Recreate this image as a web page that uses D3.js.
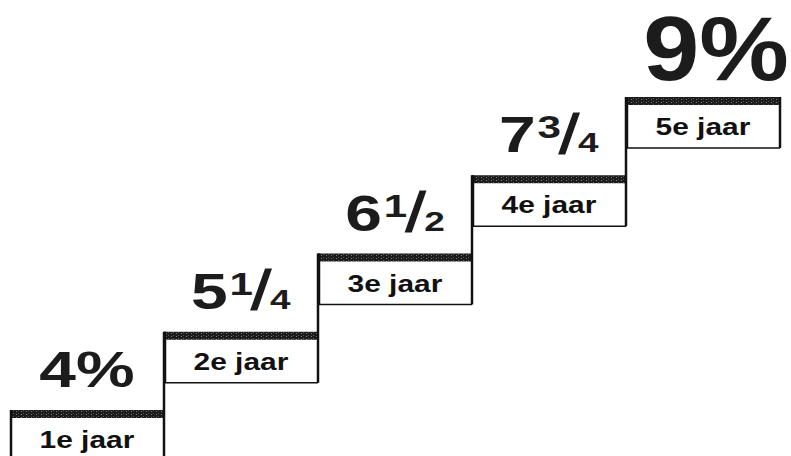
<!DOCTYPE html>
<html>
<head>
<meta charset="utf-8">
<script src="https://cdn.jsdelivr.net/npm/d3@7"></script>
<style>
  body { margin: 0; background: #fff; }
  svg { display: block; }
  text { font-family: "Liberation Sans", Arial, Helvetica, sans-serif; font-weight: bold; }
</style>
</head>
<body>
<svg id="chart" width="791" height="456"></svg>
<script>
// rente per jaar
const years = ["1e jaar", "2e jaar", "3e jaar", "4e jaar", "5e jaar"];
const rates = [4, 5.25, 6.5, 7.75, 9];
const fractions = {0.25: ["1", "4"], 0.5: ["1", "2"], 0.75: ["3", "4"]};

let barH = 8, boxH = 51;

let svg = d3.select("#chart");

let x = d3.scaleBand().domain(years).range([10, 780]);
let y = d3.scaleLinear().domain([4, 9]).range([410, 97]);
let bw = x.bandwidth();

let steps = years.map((year, i) => ({year: year, rate: rates[i], next: rates[i + 1], last: i === years.length - 1}));

// raster for the dark top bars
let pat = svg.append("defs").append("pattern")
    .attr("id", "raster")
    .attr("width", 5)
    .attr("height", 3)
    .attr("patternUnits", "userSpaceOnUse");
pat.append("rect").attr("width", 5).attr("height", 3).attr("fill", "#1c1c1c");
pat.append("rect").attr("x", 1).attr("y", 0).attr("width", 1).attr("height", 1).attr("fill", "#7a7a7a");
pat.append("rect").attr("x", 3).attr("y", 2).attr("width", 1).attr("height", 1).attr("fill", "#555");

// boxes
svg.selectAll(".box")
    .data(steps)
  .enter().append("rect")
    .attr("class", "box")
    .attr("x", d => x(d.year))
    .attr("y", d => y(d.rate))
    .attr("width", bw)
    .attr("height", boxH)
    .attr("fill", "#fff");

svg.selectAll(".bar")
    .data(steps)
  .enter().append("rect")
    .attr("class", "bar")
    .attr("x", d => x(d.year))
    .attr("y", d => y(d.rate))
    .attr("width", bw)
    .attr("height", barH)
    .attr("fill", "url(#raster)");

// left side of each box
svg.selectAll(".left")
    .data(steps)
  .enter().append("line")
    .attr("x1", d => x(d.year) + 1)
    .attr("x2", d => x(d.year) + 1)
    .attr("y1", d => y(d.rate))
    .attr("y2", d => y(d.rate) + boxH)
    .attr("stroke", "#111")
    .attr("stroke-width", 2.5);

// riser: from next step down to the bottom of this box
svg.selectAll(".riser")
    .data(steps)
  .enter().append("line")
    .attr("x1", d => x(d.year) + bw)
    .attr("x2", d => x(d.year) + bw)
    .attr("y1", d => d.last ? y(d.rate) : y(d.next))
    .attr("y2", d => y(d.rate) + boxH)
    .attr("stroke", "#111")
    .attr("stroke-width", 2.5);

svg.selectAll(".bottom")
    .data(steps)
  .enter().append("line")
    .attr("x1", d => x(d.year))
    .attr("x2", d => x(d.year) + bw)
    .attr("y1", d => y(d.rate) + boxH)
    .attr("y2", d => y(d.rate) + boxH)
    .attr("stroke", "#111")
    .attr("stroke-width", 1.5);

// place a text stretched horizontally, centred on cx
function stretch(g, cx, base, sx) {
    let b = g.select("text").node().getBBox();
    g.attr("transform", `translate(${cx - (b.x + b.width / 2) * sx},${base}) scale(${sx},1)`);
}

function rateText(t, r, big) {
    let whole = Math.floor(r), frac = r - whole;
    if (frac === 0) {
        t.append("tspan").text(whole + "%");
        return;
    }
    let [num, den] = fractions[frac];
    t.append("tspan").text(whole);
    t.append("tspan").attr("font-size", big * 0.64).attr("dy", -big * 0.28).attr("dx", big * 0.03).text(num);
    t.append("tspan").attr("font-size", big * 1.1).attr("font-weight", "normal")
        .attr("stroke", "#1c1c1c").attr("stroke-width", 1)
        .attr("dy", big * 0.29).attr("dx", -big * 0.03).text("/");
    t.append("tspan").attr("font-size", big * 0.56).attr("dy", -big * 0.01).attr("dx", -big * 0.02).text(den);
}

// year labels
svg.selectAll(".jaar")
    .data(steps)
  .enter().append("g")
    .attr("class", "jaar")
    .each(function (d) {
        let g = d3.select(this);
        g.append("text")
            .attr("font-size", 23)
            .attr("fill", "#111")
            .text(d.year);
        stretch(g, x(d.year) + bw / 2, y(d.rate) + 38, 1.3);
    });

// rates above the steps
svg.selectAll(".rente")
    .data(steps)
  .enter().append("g")
    .attr("class", "rente")
    .each(function (d) {
        let g = d3.select(this);
        let big = d.last ? 90 : 50;
        let t = g.append("text")
            .attr("font-size", big)
            .attr("fill", "#1c1c1c");
        rateText(t, d.rate, big);
        stretch(g, x(d.year) + bw / 2 + (d.last ? 13 : 0), y(d.rate) - (d.last ? 17 : 23), d.last ? 1.12 : 1.32);
    });
</script>
</body>
</html>
